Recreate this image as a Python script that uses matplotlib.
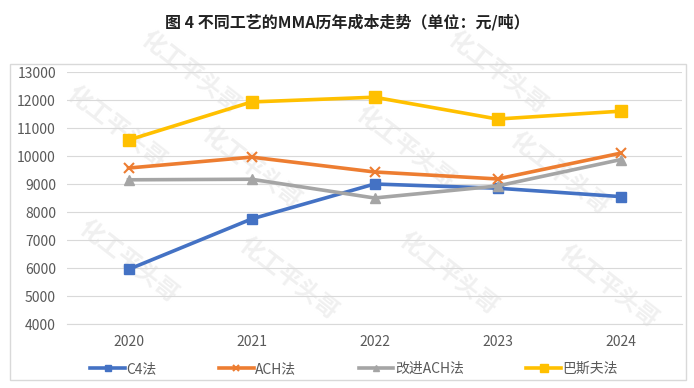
import numpy as np
import matplotlib
matplotlib.use('Agg')
import matplotlib.pyplot as plt
from matplotlib.patches import Rectangle

plt.rcParams['font.family'] = ['Noto Sans CJK SC', 'DejaVu Sans']

years = ['2020', '2021', '2022', '2023', '2024']
c4 = [5950, 7750, 9000, 8850, 8550]
ach = [9570, 9960, 9430, 9180, 10100]
ach_new = [9150, 9170, 8500, 8930, 9870]
basf = [10570, 11930, 12100, 11320, 11600]
labels = ['C4法', 'ACH法', '改进ACH法', '巴斯夫法']

fig = plt.figure(figsize=(6.94, 3.88), dpi=100)

# outer chart frame
fig.patches.append(Rectangle((10/694, 1-380/388), 676/694, 316/388, transform=fig.transFigure,
                             fill=False, edgecolor='#d9d9d9', linewidth=1))

fig.text(0.5, 1-22/388, '图 4 不同工艺的MMA历年成本走势（单位：元/吨）', ha='center', va='center',
         fontsize=11.5, fontweight='bold', color='#222222')

ax = fig.add_axes([67/694, 1-324/388, 615/694, 252/388])

# watermark
for (wx, wy) in [(0.08, 0.78), (0.30, 0.62), (0.55, 0.70), (0.80, 0.60),
                 (0.10, 0.25), (0.36, 0.18), (0.62, 0.20), (0.88, 0.15), (0.20, 1.0), (0.70, 1.0)]:
    ax.text(wx, wy, '化工平头哥', transform=ax.transAxes, rotation=-38, fontsize=17,
            fontweight='bold', color='#f0f0f0', ha='center', va='center', zorder=0)

x = np.arange(len(years))
ax.plot(x, c4, color='#4472c4', lw=2.6, marker='s', ms=7, label=labels[0], zorder=3)
ax.plot(x, ach, color='#ed7d31', lw=2.6, marker='x', ms=7, mew=1.5, label=labels[1], zorder=3)
ax.plot(x, ach_new, color='#a5a5a5', lw=2.6, marker='^', ms=7, label=labels[2], zorder=3)
ax.plot(x, basf, color='#ffc000', lw=2.6, marker='s', ms=9, label=labels[3], zorder=3)

ax.set_xlim(-0.5, 4.5)
ax.set_ylim(4000, 13000)
ax.set_yticks(range(4000, 13001, 1000))
ax.set_xticks(x)
ax.set_xticklabels(years)
ax.grid(axis='y', color='#d9d9d9', lw=0.8)
ax.set_axisbelow(True)
for s in ['top', 'right', 'left']:
    ax.spines[s].set_visible(False)
ax.spines['bottom'].set_color('#d9d9d9')
ax.tick_params(length=0, labelsize=10, colors='#595959', pad=8)

fig.legend(loc='center', bbox_to_anchor=(354/694, 1-369/388), ncol=4, frameon=False,
           fontsize=10, labelcolor='#595959', handlelength=2.5, columnspacing=4.5,
           handletextpad=0.1, markerscale=0.6)

plt.savefig('out.png', dpi=100)
